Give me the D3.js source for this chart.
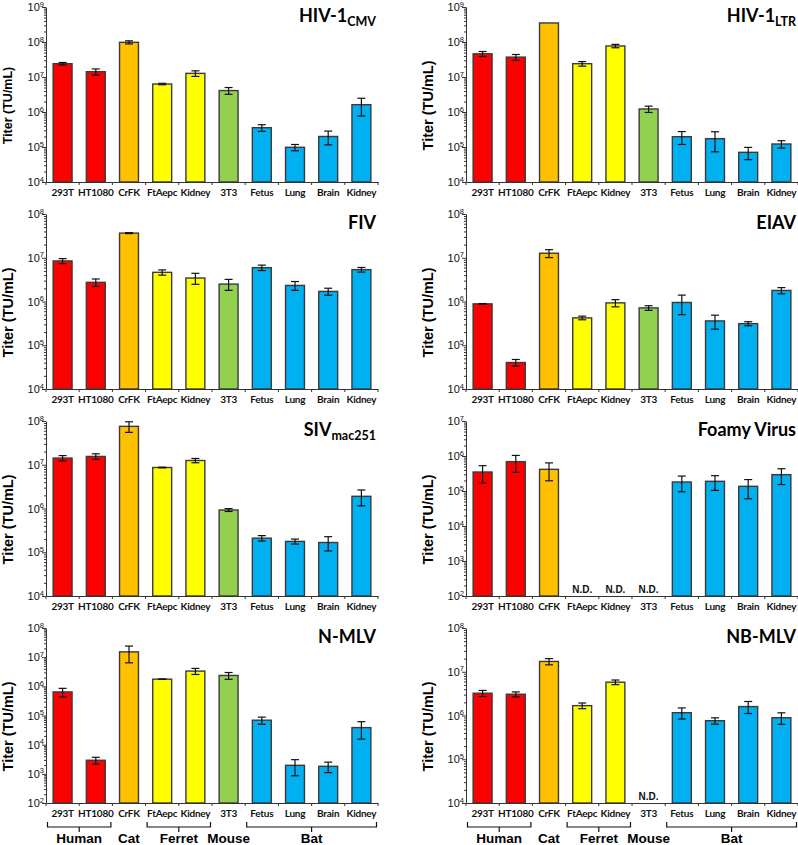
<!DOCTYPE html>
<html><head><meta charset="utf-8">
<script src="https://cdn.jsdelivr.net/npm/d3@7"></script>
<style>body{margin:0;background:#fff} svg{display:block}</style>
</head><body>
<svg id="c" width="798" height="845"></svg>
<script>
// ---------- data ----------
const cellLines = ["293T","HT1080","CrFK","FtAepc","Kidney","3T3","Fetus","Lung","Brain","Kidney"];
const cellColors = ["#FF0000","#FF0000","#FFC000","#FFFF00","#FFFF00","#92D050","#00B0F0","#00B0F0","#00B0F0","#00B0F0"];
const species = ["Human","Cat","Ferret","Mouse","Bat"];
const speciesFirst = [0,2,3,5,6];
const speciesLast = [1,2,4,5,9];

const hiv1cmvTiter = [2.4e7,1.42e7,9.8e7,6.3e6,1.27e7,4.1e6,3.56e5,9.8e4,2.0e5,1.62e6];
const hiv1cmvErr   = [2e6,2.8e6,1e7,3e5,2.3e6,9e5,7.7e4,2e4,8.5e4,8.5e5];
const hiv1ltrTiter = [4.6e7,3.7e7,3.5e8,2.4e7,7.7e7,1.22e6,1.97e5,1.73e5,7.05e4,1.22e5];
const hiv1ltrErr   = [7.5e6,7e6,0,3.6e6,8.5e6,2.5e5,7.9e4,1.0e5,2.7e4,2.9e4];
const fivTiter = [8.45e6,2.74e6,3.66e7,4.64e6,3.44e6,2.5e6,5.94e6,2.33e6,1.7e6,5.35e6];
const fivErr   = [1.1e6,5.3e5,1e6,6.4e5,9.7e5,7e5,8.4e5,5.3e5,3.1e5,6.5e5];
const eiavTiter = [8.83e5,4.03e4,1.27e7,4.22e5,9.3e5,7.15e5,9.5e5,3.6e5,3.12e5,1.79e6];
const eiavErr   = [1.5e4,7e3,2.6e6,4e4,1.75e5,8.7e4,4.5e5,1.27e5,3.3e4,2.9e5];
const sivTiter = [1.42e7,1.55e7,7.55e7,8.65e6,1.25e7,9.25e5,2.1e5,1.77e5,1.67e5,1.9e6];
const sivErr   = [2e6,2.3e6,2.05e7,1.5e5,1.4e6,7e4,3e4,2.3e4,6e4,7.5e5];
const foamyTiter = [3.49e5,6.9e5,4.16e5,null,null,null,1.81e5,1.89e5,1.36e5,2.93e5];
const foamyErr   = [1.8e5,3.5e5,2.2e5,null,null,null,8.6e4,8.5e4,7.6e4,1.4e5];
const nmlvTiter = [6.43e5,2.92e3,1.52e7,1.76e6,3.33e6,2.36e6,6.9e4,1.96e3,1.81e3,3.85e4];
const nmlvErr   = [2.1e5,7.7e2,8.8e6,3e4,7.8e5,6.2e5,1.9e4,1.1e3,7.1e2,2.3e4];
const nbmlvTiter = [3.23e6,3.06e6,1.72e7,1.68e6,5.77e6,null,1.16e6,7.6e5,1.6e6,8.9e5];
const nbmlvErr   = [5.1e5,4e5,2.8e6,2.5e5,7e5,null,3.3e5,1.25e5,4.9e5,2.6e5];

const panelTitleMain = ["HIV-1","HIV-1","FIV","EIAV","SIV","Foamy Virus","N-MLV","NB-MLV"];
const panelTitleSub  = ["CMV","LTR","","","mac251","","",""];
const yMinExp = [4,4,4,4,4,2,2,4];
const yMaxExp = [9,9,8,8,8,7,8,8];
const panelTiters = [hiv1cmvTiter,hiv1ltrTiter,fivTiter,eiavTiter,sivTiter,foamyTiter,nmlvTiter,nbmlvTiter];
const panelErrs   = [hiv1cmvErr,hiv1ltrErr,fivErr,eiavErr,sivErr,foamyErr,nmlvErr,nbmlvErr];
const yAxisTitle = "Titer (TU/mL)";
const ndLabel = "N.D.";

// ---------- drawing ----------
const svg = d3.select("#c");
const AX = "#333";
const tickFont = "Lato, 'Open Sans', sans-serif";
const arial = "'Liberation Sans', Arial, sans-serif";

panelTiters.forEach((titers, p) => {
  const col = p % 2, row = Math.floor(p / 2);
  const x0 = col ? 466 : 46, x1 = x0 + 332;
  const yTop = 7 + row * 207, yBot = yTop + 175;
  const errs = panelErrs[p];
  const g = svg.append("g");

  const x = d3.scaleBand().domain(d3.range(cellLines.length)).range([x0, x1])
    .paddingInner(0.43).paddingOuter(0.215);
  const y = d3.scaleLog().domain([10 ** yMinExp[p], 10 ** yMaxExp[p]]).range([yBot, yTop]);
  const step = x.step(), bw = x.bandwidth();
  const slotStart = i => x(i) - (step - bw) / 2;

  // bars
  g.selectAll("rect.bar").data(titers.map((v, i) => ({v, i})).filter(d => d.v != null))
    .join("rect")
    .attr("x", d => x(d.i)).attr("width", bw)
    .attr("y", d => y(d.v)).attr("height", d => yBot - y(d.v))
    .attr("fill", d => cellColors[d.i]).attr("stroke", "#3a3a3a").attr("stroke-width", 1.4);

  // error bars
  const eb = titers.map((v, i) => ({v, e: errs[i], i})).filter(d => d.v != null && d.e > 0);
  const cx = d => x(d.i) + bw / 2;
  const hi = d => y(d.v + d.e);
  const lo = d => y(Math.max(d.v - d.e, d.v * 0.05));
  const eg = g.append("g").attr("stroke", "#111").attr("stroke-width", 1.2);
  eg.selectAll("line.v").data(eb).join("line").attr("x1", cx).attr("x2", cx).attr("y1", hi).attr("y2", lo);
  eg.selectAll("line.t").data(eb).join("line").attr("x1", d => cx(d) - 4).attr("x2", d => cx(d) + 4).attr("y1", hi).attr("y2", hi);
  eg.selectAll("line.b").data(eb).join("line").attr("x1", d => cx(d) - 4).attr("x2", d => cx(d) + 4).attr("y1", lo).attr("y2", lo);

  // N.D. labels
  g.selectAll("text.nd").data(titers.map((v, i) => ({v, i})).filter(d => d.v == null))
    .join("text").attr("x", d => x(d.i) + bw / 2).attr("y", yBot - 3)
    .attr("text-anchor", "middle").attr("font-family", arial).attr("font-weight", "bold")
    .attr("font-size", 10).attr("fill", "#111").text(ndLabel);

  // y axis
  const majors = d3.range(yMinExp[p], yMaxExp[p] + 1).map(e => 10 ** e);
  const minors = [];
  for (let e = yMinExp[p]; e < yMaxExp[p]; e++) for (let k = 2; k < 10; k++) minors.push(k * 10 ** e);
  const ya = g.append("g").attr("transform", `translate(${x0},0)`)
    .call(d3.axisLeft(y).tickValues(majors).tickSize(4).tickSizeOuter(0).tickFormat(""));
  const ym = g.append("g").attr("transform", `translate(${x0},0)`)
    .call(d3.axisLeft(y).tickValues(minors).tickSize(2).tickSizeOuter(0).tickFormat(""));
  ym.select(".domain").remove();
  [ya, ym].forEach(a => { a.selectAll("path,line").attr("stroke", AX); });

  const yl = g.selectAll("text.yl").data(majors).join("text")
    .attr("x", x0 - 2).attr("y", d => y(d) + 4).attr("text-anchor", "end")
    .attr("font-family", arial).attr("font-size", 11).attr("fill", "#111");
  yl.append("tspan").text("10");
  yl.append("tspan").attr("dy", -4.5).attr("font-size", 7.5).text(d => Math.round(Math.log10(d)));

  // x axis
  const xa = g.append("g").attr("transform", `translate(0,${yBot})`)
    .call(d3.axisBottom(x).tickSize(0).tickSizeOuter(0).tickPadding(7).tickFormat(i => cellLines[i]));
  xa.select(".domain").attr("stroke", AX);
  xa.selectAll("text").attr("font-family", tickFont).attr("font-weight", "bold")
    .attr("font-size", 10).attr("letter-spacing", -0.25).attr("fill", "#111");
  const bounds = d3.range(cellLines.length + 1).map(i => i < cellLines.length ? slotStart(i) : x1);
  g.selectAll("line.xt").data(bounds).join("line")
    .attr("x1", d => d).attr("x2", d => d).attr("y1", yBot).attr("y2", yBot + 3)
    .attr("stroke", AX);

  // title
  const t = g.append("text").attr("x", x1 - 2).attr("y", yTop + 15).attr("text-anchor", "end")
    .attr("font-family", tickFont).attr("font-weight", "bold").attr("fill", "#000");
  t.append("tspan").attr("font-size", 18).text(panelTitleMain[p]);
  if (panelTitleSub[p]) t.append("tspan").attr("font-size", 12.5).attr("dy", 4).text(panelTitleSub[p]);

  // y axis title
  g.append("text")
    .attr("transform", `translate(${x0 - 38},${(yTop + yBot) / 2 + 11}) rotate(-90)`)
    .attr("text-anchor", "middle").attr("dominant-baseline", "central")
    .attr("font-family", arial).attr("font-weight", "bold")
    .attr("font-size", p === 0 ? 12.5 : 14.5).attr("fill", "#000").text(yAxisTitle);

  // species brackets on bottom row
  if (row === 3) {
    species.forEach((s, k) => {
      const a = speciesFirst[k], b = speciesLast[k];
      const left = slotStart(a) + 1.5, right = slotStart(b) + step - 1.5;
      const mid = (left + right) / 2;
      if (a !== b) {
        g.append("path")
          .attr("d", `M${left},${yBot + 19}V${yBot + 24}H${right}V${yBot + 19}M${mid},${yBot + 24}V${yBot + 29}`)
          .attr("fill", "none").attr("stroke", "#111").attr("stroke-width", 1.2);
      }
      g.append("text").attr("x", mid).attr("y", yBot + 39.5).attr("text-anchor", "middle")
        .attr("font-family", arial).attr("font-weight", "bold").attr("font-size", 13.5)
        .attr("fill", "#000").text(s);
    });
  }
});
</script>
</body></html>
